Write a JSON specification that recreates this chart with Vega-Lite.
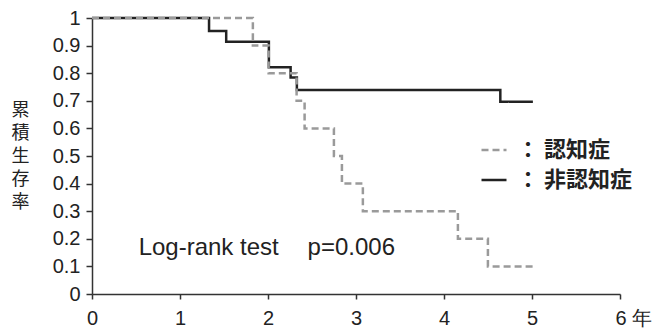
{
  "$schema": "https://vega.github.io/schema/vega-lite/v6.json",
  "width": 528,
  "height": 276,
  "autosize": {"type": "none"},
  "padding": {"left": 92, "top": 18, "right": 32, "bottom": 37},
  "background": "white",
  "config": {
    "view": {"stroke": null},
    "axis": {
      "grid": false,
      "domainColor": "#333333",
      "tickColor": "#333333",
      "labelColor": "#222222",
      "labelFont": "Liberation Sans",
      "labelFontSize": 20,
      "labelOverlap": false,
      "domainWidth": 1.5,
      "tickWidth": 1.5
    }
  },
  "datasets": {
    "km": [
      {"group": "非認知症", "year": 0, "survival": 1},
      {"group": "非認知症", "year": 1.33, "survival": 0.953},
      {"group": "非認知症", "year": 1.525, "survival": 0.914},
      {"group": "非認知症", "year": 2.01, "survival": 0.822},
      {"group": "非認知症", "year": 2.257, "survival": 0.784},
      {"group": "非認知症", "year": 2.328, "survival": 0.739},
      {"group": "非認知症", "year": 4.64, "survival": 0.697},
      {"group": "非認知症", "year": 5.01, "survival": 0.697},
      {"group": "認知症", "year": 0, "survival": 1},
      {"group": "認知症", "year": 1.828, "survival": 0.9},
      {"group": "認知症", "year": 2.007, "survival": 0.8},
      {"group": "認知症", "year": 2.325, "survival": 0.7},
      {"group": "認知症", "year": 2.416, "survival": 0.6},
      {"group": "認知症", "year": 2.749, "survival": 0.5},
      {"group": "認知症", "year": 2.84, "survival": 0.4},
      {"group": "認知症", "year": 3.078, "survival": 0.3},
      {"group": "認知症", "year": 4.158, "survival": 0.2},
      {"group": "認知症", "year": 4.499, "survival": 0.1},
      {"group": "認知症", "year": 5.01, "survival": 0.1}
    ],
    "notes": [
      {"x": 0.53, "y": 0.141, "label": "Log-rank test"},
      {"x": 2.45, "y": 0.141, "label": "p=0.006"}
    ]
  },
  "layer": [
    {
      "data": {"name": "km"},
      "mark": {"type": "line", "interpolate": "step-after", "strokeWidth": 2.5},
      "encoding": {
        "x": {
          "field": "year",
          "type": "quantitative",
          "scale": {"domain": [0, 6], "nice": false},
          "axis": {
            "title": null,
            "values": [0, 1, 2, 3, 4, 5, 6],
            "tickCount": 20,
            "format": "~g",
            "tickSize": 5,
            "labelPadding": 9,
            "labelFlush": false,
            "labelExpr": "datum.value == 6 ? '6 年' : datum.label",
            "labelAlign": {"condition": {"test": "datum.value == 6", "value": "left"}, "value": "center"},
            "labelOffset": {"condition": {"test": "datum.value == 6", "value": -5}, "value": 0}
          }
        },
        "y": {
          "field": "survival",
          "type": "quantitative",
          "scale": {"domain": [0, 1], "nice": false},
          "axis": {
            "values": [0, 0.1, 0.2, 0.3, 0.4, 0.5, 0.6, 0.7, 0.8, 0.9, 1],
            "tickCount": 20,
            "format": "~g",
            "tickSize": 6,
            "labelPadding": 6,
            "title": ["累", "積", "生", "存", "率"],
            "titleAngle": 0,
            "titleFont": "Noto Sans CJK JP",
            "titleFontSize": 18,
            "titleFontWeight": "normal",
            "titleLineHeight": 23,
            "titleColor": "#222222",
            "titleX": -72,
            "titleY": 92,
            "titleAlign": "center",
            "titleBaseline": "middle"
          }
        },
        "color": {
          "field": "group",
          "type": "nominal",
          "scale": {"domain": ["認知症", "非認知症"], "range": ["#9a9a9a", "#222222"]},
          "legend": {
            "title": null,
            "orient": "none",
            "legendX": 388,
            "legendY": 118,
            "padding": 0,
            "symbolType": "stroke",
            "symbolSize": 625,
            "symbolStrokeWidth": 2.5,
            "labelFont": "Noto Sans CJK JP",
            "labelFontSize": 22,
            "labelFontWeight": "bold",
            "labelColor": "#222222",
            "labelOffset": 9,
            "rowPadding": 5,
            "labelExpr": "'：\u00a0' + datum.label"
          }
        },
        "strokeDash": {
          "field": "group",
          "type": "nominal",
          "scale": {"domain": ["認知症", "非認知症"], "range": [[7, 4], [1, 0]]},
          "legend": {
            "title": null,
            "orient": "none",
            "legendX": 388,
            "legendY": 118,
            "padding": 0,
            "symbolType": "stroke",
            "symbolSize": 625,
            "symbolStrokeWidth": 2.5,
            "labelFont": "Noto Sans CJK JP",
            "labelFontSize": 22,
            "labelFontWeight": "bold",
            "labelColor": "#222222",
            "labelOffset": 9,
            "rowPadding": 5,
            "labelExpr": "'：\u00a0' + datum.label"
          }
        }
      }
    },
    {
      "data": {"name": "notes"},
      "mark": {"type": "text", "align": "left", "baseline": "alphabetic", "font": "Liberation Sans", "fontSize": 24, "color": "#222222"},
      "encoding": {
        "x": {"field": "x", "type": "quantitative"},
        "y": {"field": "y", "type": "quantitative"},
        "text": {"field": "label"}
      }
    }
  ]
}
